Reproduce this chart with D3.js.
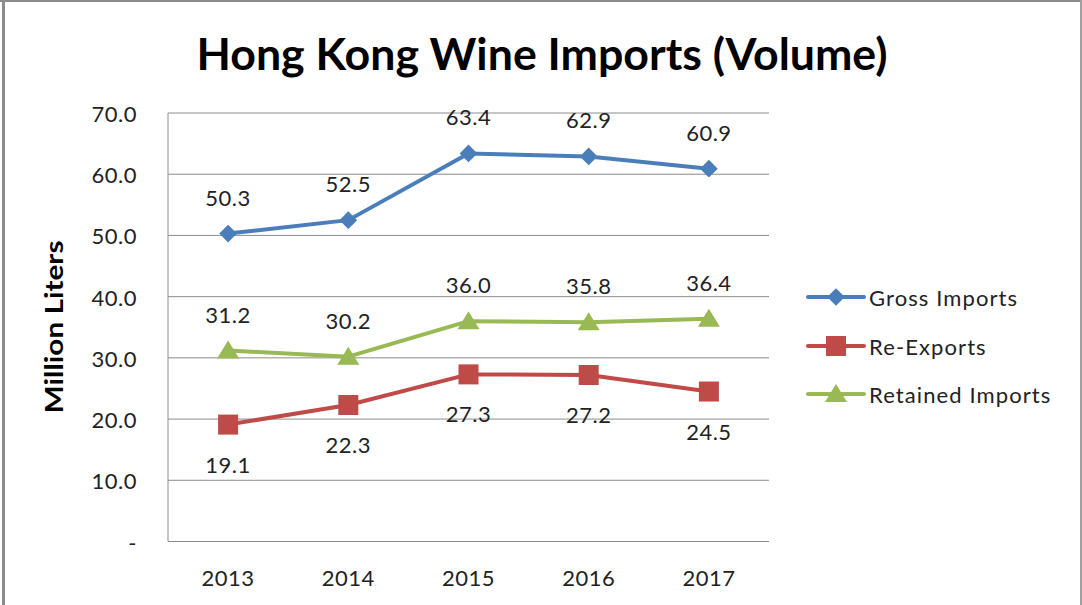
<!DOCTYPE html>
<html>
<head>
<meta charset="utf-8">
<script src="https://cdn.jsdelivr.net/npm/d3@7"></script>
<style>
  body { margin: 0; background: #fff; }
  svg { display: block; font-family: Lato, "Open Sans", sans-serif; }
</style>
</head>
<body>
<svg id="chart" width="1082" height="605"></svg>
<script>
// data
const years = ["2013", "2014", "2015", "2016", "2017"];
const grossImports = [50.3, 52.5, 63.4, 62.9, 60.9];
const reExports = [19.1, 22.3, 27.3, 27.2, 24.5];
const retainedImports = [31.2, 30.2, 36.0, 35.8, 36.4];
const yTicks = [0, 10, 20, 30, 40, 50, 60, 70];

const series = [
  { name: "Gross Imports", values: grossImports, color: "#4A7EBB", marker: "diamond", labelPos: "above" },
  { name: "Re-Exports", values: reExports, color: "#BE4B48", marker: "square", labelPos: "below" },
  { name: "Retained Imports", values: retainedImports, color: "#98B954", marker: "triangle", labelPos: "above" }
];

const svg = d3.select("#chart");
const plot = { left: 168, right: 769, top: 113, bottom: 541.5 };

// frame like the pasted picture
svg.append("rect").attr("x", 0).attr("y", 0).attr("width", 1082).attr("height", 2)
  .attr("fill", "#8c8c8c");
svg.append("rect").attr("x", 2).attr("y", 0).attr("width", 3).attr("height", 605)
  .attr("fill", "#8c8c8c");
svg.append("rect").attr("x", 1080).attr("y", 0).attr("width", 2).attr("height", 605)
  .attr("fill", "#a0a0a0");

const x = d3.scaleBand().domain(years).range([plot.left, plot.right]);
const y = d3.scaleLinear().domain([0, 70]).range([plot.bottom, plot.top]);
const cx = d => x(d) + x.bandwidth() / 2;

// gridlines
svg.append("g").selectAll("line").data(yTicks.filter(t => t > 0)).join("line")
  .attr("x1", plot.left).attr("x2", plot.right)
  .attr("y1", d => y(d)).attr("y2", d => y(d))
  .attr("stroke", "#8c8c8c").attr("stroke-width", 1);

// axis lines
svg.append("line").attr("x1", plot.left).attr("x2", plot.left)
  .attr("y1", plot.top).attr("y2", plot.bottom).attr("stroke", "#8c8c8c");
svg.append("line").attr("x1", plot.left).attr("x2", plot.right)
  .attr("y1", plot.bottom).attr("y2", plot.bottom).attr("stroke", "#8c8c8c");

// y tick labels
svg.append("g").selectAll("text").data(yTicks).join("text")
  .attr("x", 137).attr("y", d => y(d) + 9)
  .attr("text-anchor", "end")
  .attr("font-size", 22).attr("letter-spacing", 0.5).attr("fill", "#222")
  .text(d => d === 0 ? "-" : d.toFixed(1));

// x tick labels
svg.append("g").selectAll("text").data(years).join("text")
  .attr("x", d => cx(d)).attr("y", 586)
  .attr("text-anchor", "middle")
  .attr("font-size", 22).attr("letter-spacing", 0.5).attr("fill", "#222")
  .text(d => d);

// title
svg.append("text")
  .attr("x", 542).attr("y", 70)
  .attr("text-anchor", "middle")
  .attr("font-size", 43).attr("font-weight", "bold").attr("fill", "#000")
  .attr("textLength", 691).attr("lengthAdjust", "spacingAndGlyphs")
  .text("Hong Kong Wine Imports (Volume)");

// y axis title
svg.append("text")
  .attr("transform", "translate(63,327) rotate(-90)")
  .attr("text-anchor", "middle")
  .attr("font-size", 25).attr("font-weight", "bold").attr("fill", "#000")
  .attr("textLength", 173).attr("lengthAdjust", "spacingAndGlyphs")
  .text("Million Liters");

function markerPath(type) {
  if (type === "diamond") return d3.symbol(d3.symbolDiamond2, 200)();
  if (type === "square") return d3.symbol(d3.symbolSquare, 400)();
  return "M0,-10L11,8L-11,8Z";
}

const line = d3.line().x((d, i) => cx(years[i])).y(d => y(d));

series.forEach(s => {
  const g = svg.append("g");
  g.append("path").datum(s.values)
    .attr("d", line)
    .attr("fill", "none").attr("stroke", s.color)
    .attr("stroke-width", 4).attr("stroke-linejoin", "round");

  g.selectAll("path.mk").data(s.values).join("path")
    .attr("class", "mk")
    .attr("transform", (d, i) => `translate(${cx(years[i])},${y(d)})`)
    .attr("d", markerPath(s.marker))
    .attr("fill", s.color);

  g.selectAll("text").data(s.values).join("text")
    .attr("x", (d, i) => cx(years[i]))
    .attr("y", d => s.labelPos === "above" ? y(d) - 28 : y(d) + 48)
    .attr("text-anchor", "middle")
    .attr("font-size", 22).attr("letter-spacing", 0.5).attr("fill", "#222")
    .text(d => d.toFixed(1));
});

// legend
const legendY = [297, 346, 394];
series.forEach((s, i) => {
  const g = svg.append("g").attr("transform", `translate(0,${legendY[i]})`);
  g.append("line").attr("x1", 808).attr("x2", 864).attr("y1", 0).attr("y2", 0)
    .attr("stroke", s.color).attr("stroke-width", 4).attr("stroke-linecap", "round");
  g.append("path").attr("transform", "translate(836,0)")
    .attr("d", markerPath(s.marker)).attr("fill", s.color);
  g.append("text").attr("x", 869).attr("y", 9)
    .attr("font-size", 22).attr("letter-spacing", 1.1).attr("fill", "#222")
    .text(s.name);
});
</script>
</body>
</html>
